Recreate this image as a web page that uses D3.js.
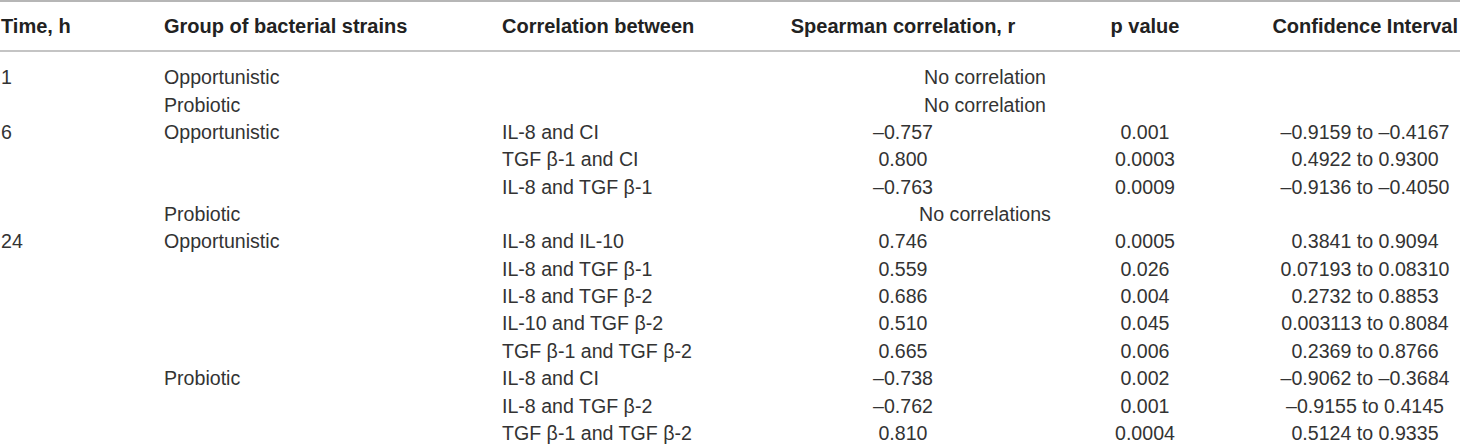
<!DOCTYPE html>
<html>
<head>
<meta charset="utf-8">
<script src="https://cdn.jsdelivr.net/npm/d3@7"></script>
<style>
  body { margin: 0; background: #fff; }
  text { font-family: "Liberation Sans", Arial, sans-serif; }
</style>
</head>
<body>
<div id="table"></div>
<script>
var width = 1460, height = 445;

// column headers
var headers = ["Time, h", "Group of bacterial strains", "Correlation between",
               "Spearman correlation, r", "p value", "Confidence Interval"];

// one entry per table row
var times  = ["1", "", "6", "", "", "", "24", "", "", "", "", "", "", ""];
var groups = ["Opportunistic", "Probiotic", "Opportunistic", "", "", "Probiotic",
              "Opportunistic", "", "", "", "", "Probiotic", "", ""];
var pairs  = ["", "", "IL-8 and CI", "TGF β-1 and CI", "IL-8 and TGF β-1", "",
              "IL-8 and IL-10", "IL-8 and TGF β-1", "IL-8 and TGF β-2",
              "IL-10 and TGF β-2", "TGF β-1 and TGF β-2",
              "IL-8 and CI", "IL-8 and TGF β-2", "TGF β-1 and TGF β-2"];
var rValues = ["", "", "–0.757", "0.800", "–0.763", "",
               "0.746", "0.559", "0.686", "0.510", "0.665",
               "–0.738", "–0.762", "0.810"];
var pValues = ["", "", "0.001", "0.0003", "0.0009", "",
               "0.0005", "0.026", "0.004", "0.045", "0.006",
               "0.002", "0.001", "0.0004"];
var ciValues = ["", "", "–0.9159 to –0.4167", "0.4922 to 0.9300", "–0.9136 to –0.4050", "",
                "0.3841 to 0.9094", "0.07193 to 0.08310", "0.2732 to 0.8853",
                "0.003113 to 0.8084", "0.2369 to 0.8766",
                "–0.9062 to –0.3684", "–0.9155 to 0.4145", "0.5124 to 0.9335"];
// rows without correlations get a note spanning the right columns
var notes = ["No correlation", "No correlation", "", "", "", "No correlations",
             "", "", "", "", "", "", "", ""];

var svg = d3.select("#table")
  .append("svg")
    .attr("width", width)
    .attr("height", height);

// row positions
var y = d3.scaleLinear()
    .domain([0, times.length - 1])
    .range([77.5, 433]);

// column anchors
var cols = [
  {x: 1,    anchor: "start"},
  {x: 164,  anchor: "start"},
  {x: 502,  anchor: "start"},
  {x: 903,  anchor: "middle"},
  {x: 1145, anchor: "middle"},
  {x: 1365, anchor: "middle"}
];
var noteX = 985;

// rules
svg.append("line")
    .attr("x1", 0).attr("x2", width)
    .attr("y1", 1).attr("y2", 1)
    .attr("stroke", "#9e9e9e")
    .attr("stroke-width", 1.5);
svg.append("line")
    .attr("x1", 0).attr("x2", width)
    .attr("y1", 51).attr("y2", 51)
    .attr("stroke", "#b0b0b0")
    .attr("stroke-width", 1.5);

// header
svg.selectAll(".head")
  .data(headers)
  .enter()
  .append("text")
    .attr("class", "head")
    .attr("x", function(d, i) { return i == 5 ? 1458 : cols[i].x; })
    .attr("y", 26)
    .attr("dy", "0.35em")
    .attr("text-anchor", function(d, i) { return i == 5 ? "end" : cols[i].anchor; })
    .style("font-size", "20px")
    .style("font-weight", "bold")
    .style("fill", "#222")
    .text(function(d) { return d; });

var columns = [times, groups, pairs, rValues, pValues, ciValues];

columns.forEach(function(values, c) {
  svg.append("g")
    .selectAll("text")
    .data(values)
    .enter()
    .append("text")
      .attr("x", cols[c].x)
      .attr("y", function(d, i) { return y(i); })
      .attr("dy", "0.35em")
      .attr("text-anchor", cols[c].anchor)
      .style("font-size", "19.6px")
      .style("fill", "#333")
      .text(function(d) { return d; });
});

svg.append("g")
  .selectAll("text")
  .data(notes)
  .enter()
  .append("text")
    .attr("x", noteX)
    .attr("y", function(d, i) { return y(i); })
    .attr("dy", "0.35em")
    .attr("text-anchor", "middle")
    .style("font-size", "19.6px")
    .style("fill", "#333")
    .text(function(d) { return d; });
</script>
</body>
</html>
